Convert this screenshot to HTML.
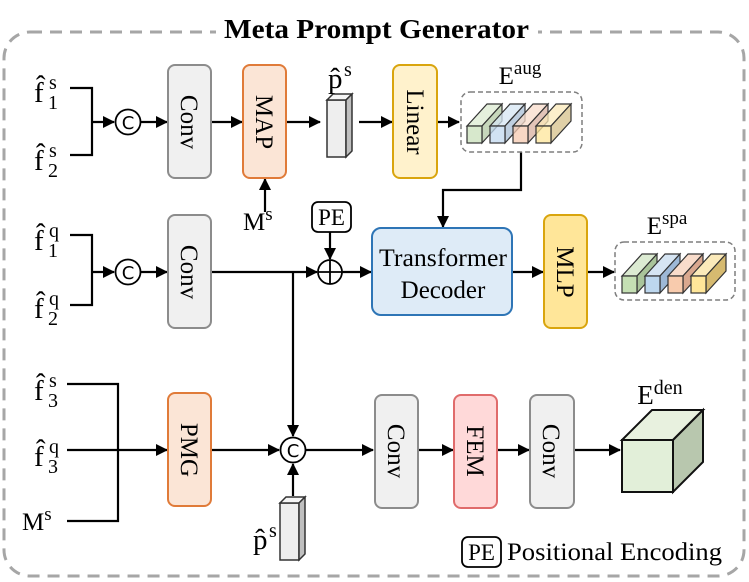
<!DOCTYPE html>
<html><head><meta charset="utf-8"><style>
html,body{margin:0;padding:0;background:#fff;}
svg{display:block;}
text{font-family:"Liberation Serif",serif;fill:#000;}
</style></head><body>
<svg width="749" height="582" viewBox="0 0 749 582" xmlns="http://www.w3.org/2000/svg">
<defs>
<marker id="a" markerWidth="12" markerHeight="12" refX="11" refY="6" orient="auto" markerUnits="userSpaceOnUse"><path d="M0,0 L12,6 L0,12 z" fill="#000"/></marker>
</defs>
<rect x="4" y="32" width="740" height="544" rx="26" fill="none" stroke="#a6a6a6" stroke-width="3" stroke-dasharray="12,8"/>
<rect x="216" y="12" width="322" height="36" fill="#fff"/>
<text x="224" y="38" font-size="27" font-weight="bold" textLength="305" lengthAdjust="spacingAndGlyphs">Meta Prompt Generator</text>

<g stroke="#000" stroke-width="2.2" fill="none">
<path d="M70,88 H92 V155 H70"/>
<path d="M92,122 H114" marker-end="url(#a)"/>
<path d="M141,122 H167" marker-end="url(#a)"/>
<path d="M211,122 H242" marker-end="url(#a)"/>
<path d="M265,212 V179" marker-end="url(#a)"/>
<path d="M287,122 H320" marker-end="url(#a)"/>
<path d="M359,122 H392" marker-end="url(#a)"/>
<path d="M437,122 H459" marker-end="url(#a)"/>
<path d="M521,152 V190 H443 V227" marker-end="url(#a)"/>
<path d="M70,235 H92 V305 H70"/>
<path d="M92,272 H114" marker-end="url(#a)"/>
<path d="M141,272 H167" marker-end="url(#a)"/>
<path d="M211,272 H317" marker-end="url(#a)"/>
<path d="M330,232 V259" marker-end="url(#a)"/>
<path d="M342,272 H371" marker-end="url(#a)"/>
<path d="M512,272 H543" marker-end="url(#a)"/>
<path d="M587,272 H614" marker-end="url(#a)"/>
<path d="M293,272 V436" marker-end="url(#a)"/>
<path d="M67,384 H118 V521 H67"/>
<path d="M67,450 H167" marker-end="url(#a)"/>
<path d="M211,450 H279" marker-end="url(#a)"/>
<path d="M293,496 V464" marker-end="url(#a)"/>
<path d="M306,450 H373" marker-end="url(#a)"/>
<path d="M418,450 H453" marker-end="url(#a)"/>
<path d="M497,450 H529" marker-end="url(#a)"/>
<path d="M574,450 H620" marker-end="url(#a)"/>
</g>

<g stroke="#000" stroke-width="1.8" fill="#fff">
<circle cx="128" cy="122" r="12.5"/>
<circle cx="128" cy="272" r="12.5"/>
<circle cx="293" cy="450" r="12.5"/>
<circle cx="330" cy="272" r="12"/>
</g>
<path d="M318,272 H342 M330,260 V284" stroke="#000" stroke-width="1.8"/>
<g font-size="18" text-anchor="middle">
<text x="128" y="129" style="font-family:'DejaVu Sans',sans-serif">C</text>
<text x="128" y="279" style="font-family:'DejaVu Sans',sans-serif">C</text>
<text x="293" y="457" style="font-family:'DejaVu Sans',sans-serif">C</text>
</g>

<g stroke-width="2">
<rect x="168" y="65" width="43" height="113" rx="7" fill="#f0f0f0" stroke="#8c8c8c"/>
<rect x="243" y="65" width="43" height="113" rx="7" fill="#fbe5d6" stroke="#e07b39"/>
<rect x="393" y="65" width="44" height="113" rx="7" fill="#fff2cc" stroke="#d9a50e"/>
<rect x="168" y="215" width="43" height="113" rx="7" fill="#f0f0f0" stroke="#8c8c8c"/>
<rect x="372" y="228" width="140" height="87" rx="9" fill="#deebf7" stroke="#2e75b6"/>
<rect x="544" y="215" width="43" height="113" rx="7" fill="#ffe699" stroke="#d9a50e"/>
<rect x="168" y="393" width="43" height="113" rx="7" fill="#fbe5d6" stroke="#e07b39"/>
<rect x="375" y="395" width="43" height="113" rx="7" fill="#f0f0f0" stroke="#8c8c8c"/>
<rect x="454" y="395" width="43" height="113" rx="7" fill="#ffd9d9" stroke="#e06b6b"/>
<rect x="530" y="395" width="44" height="113" rx="7" fill="#f0f0f0" stroke="#8c8c8c"/>
</g>
<g font-size="25" text-anchor="middle">
<text transform="translate(181,122) rotate(90)">Conv</text>
<text transform="translate(256,122) rotate(90)">MAP</text>
<text transform="translate(407,122) rotate(90)">Linear</text>
<text transform="translate(181,272) rotate(90)">Conv</text>
<text transform="translate(557,272) rotate(90)">MLP</text>
<text transform="translate(181,450) rotate(90)">PMG</text>
<text transform="translate(388,451) rotate(90)">Conv</text>
<text transform="translate(467,451) rotate(90)">FEM</text>
<text transform="translate(543,451) rotate(90)">Conv</text>
<text x="443" y="266" textLength="128" lengthAdjust="spacingAndGlyphs">Transformer</text>
<text x="443" y="298">Decoder</text>
</g>

<rect x="312" y="202" width="39" height="30" rx="6" fill="#fff" stroke="#000" stroke-width="1.8"/>
<text x="331.5" y="225" font-size="23" text-anchor="middle">PE</text>
<rect x="462" y="537" width="39" height="30" rx="6" fill="#fff" stroke="#000" stroke-width="1.8"/>
<text x="481.5" y="560" font-size="23" text-anchor="middle">PE</text>
<text x="507" y="560" font-size="25" textLength="215" lengthAdjust="spacingAndGlyphs">Positional Encoding</text>

<g stroke="#333" stroke-width="1.5">
<rect x="327" y="100" width="19" height="57" fill="#eeeeee"/>
<path d="M327,100 L333,94 H352 L346,100 Z" fill="#f5f5f5"/>
<path d="M346,100 L352,94 V151 L346,157 Z" fill="#bfbfbf"/>
<rect x="280" y="503" width="19" height="57" fill="#eeeeee"/>
<path d="M280,503 L286,497 H305 L299,503 Z" fill="#f5f5f5"/>
<path d="M299,503 L305,497 V554 L299,560 Z" fill="#bfbfbf"/>
</g>

<rect x="461" y="92" width="121" height="60" rx="9" fill="none" stroke="#7f7f7f" stroke-width="1.5" stroke-dasharray="5,3"/>
<g stroke="#333" stroke-width="1.2" fill-opacity="0.75">
<g><path d="M467,126 L487,104 H502 L482,126Z" fill="#dcebd2"/><path d="M482,126 L502,104 V121 L482,143Z" fill="#b3c9a4"/><rect x="467" y="126" width="15" height="17" fill="#c9e0bb"/></g>
<g><path d="M490,126 L510,104 H525 L505,126Z" fill="#d6e5f3"/><path d="M505,126 L525,104 V121 L505,143Z" fill="#a9bfd6"/><rect x="490" y="126" width="15" height="17" fill="#c2d8ef"/></g>
<g><path d="M513,126 L533,104 H548 L528,126Z" fill="#f8dccb"/><path d="M528,126 L548,104 V121 L528,143Z" fill="#d8b0a0"/><rect x="513" y="126" width="15" height="17" fill="#f6c9b0"/></g>
<g><path d="M536,126 L556,104 H571 L551,126Z" fill="#fbeaba"/><path d="M551,126 L571,104 V121 L551,143Z" fill="#d6c08a"/><rect x="536" y="126" width="15" height="17" fill="#fde59a"/></g>
</g>
<text x="520" y="84" font-size="25" text-anchor="middle">E<tspan font-size="19" dy="-10">aug</tspan></text>

<rect x="615" y="242" width="120" height="58" rx="9" fill="none" stroke="#7f7f7f" stroke-width="1.5" stroke-dasharray="5,3"/>
<g stroke="#333" stroke-width="1.2">
<g><path d="M622,276 L642,254 H657 L637,276Z" fill="#dcebd2"/><path d="M637,276 L657,254 V271 L637,293Z" fill="#a9c49a"/><rect x="622" y="276" width="15" height="17" fill="#c5e0b4"/></g>
<g><path d="M645,276 L665,254 H680 L660,276Z" fill="#d6e5f3"/><path d="M660,276 L680,254 V271 L660,293Z" fill="#9db8d6"/><rect x="645" y="276" width="15" height="17" fill="#bdd7ee"/></g>
<g><path d="M668,276 L688,254 H703 L683,276Z" fill="#f8dccb"/><path d="M683,276 L703,254 V271 L683,293Z" fill="#d9a88f"/><rect x="668" y="276" width="15" height="17" fill="#f8cbad"/></g>
<g><path d="M691,276 L711,254 H726 L706,276Z" fill="#fbeaba"/><path d="M706,276 L726,254 V271 L706,293Z" fill="#d6ba70"/><rect x="691" y="276" width="15" height="17" fill="#ffe699"/></g>
</g>
<text x="667" y="234" font-size="25" text-anchor="middle">E<tspan font-size="19" dy="-10">spa</tspan></text>

<g stroke="#111" stroke-width="2">
<path d="M622,440 L652,410 H703 L673,440Z" fill="#e8f1df"/>
<path d="M673,440 L703,410 V462 L673,492Z" fill="#b8c7ae"/>
<rect x="622" y="440" width="51" height="52" fill="#e2efd9"/>
</g>
<text x="660" y="404" font-size="27" text-anchor="middle">E<tspan font-size="20" dy="-10">den</tspan></text>

<g font-size="29">
<text x="34" y="102">f̂</text><text x="49" y="89" font-size="20">s</text><text x="48" y="109" font-size="20">1</text>
<text x="34" y="170">f̂</text><text x="49" y="157" font-size="20">s</text><text x="48" y="177" font-size="20">2</text>
<text x="34" y="250">f̂</text><text x="49" y="237" font-size="20">q</text><text x="48" y="257" font-size="20">1</text>
<text x="34" y="318">f̂</text><text x="49" y="305" font-size="20">q</text><text x="48" y="325" font-size="20">2</text>
<text x="34" y="400">f̂</text><text x="49" y="387" font-size="20">s</text><text x="48" y="407" font-size="20">3</text>
<text x="34" y="466">f̂</text><text x="49" y="453" font-size="20">q</text><text x="48" y="473" font-size="20">3</text>
</g>
<text x="22" y="530" font-size="25">M<tspan font-size="19" dy="-10">s</tspan></text>
<text x="243" y="230" font-size="25">M<tspan font-size="19" dy="-10">s</tspan></text>
<text x="328" y="88" font-size="29">p̂</text><text x="344" y="76" font-size="20">s</text>
<text x="253" y="549" font-size="29">p̂</text><text x="269" y="537" font-size="20">s</text>
</svg>
</body></html>
